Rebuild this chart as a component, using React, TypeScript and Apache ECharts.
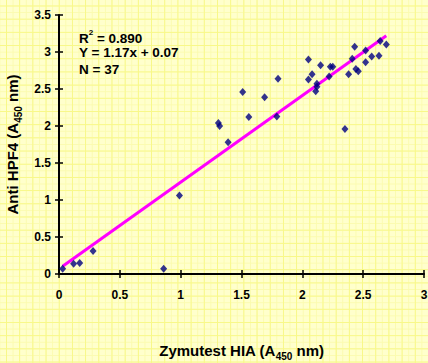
import React, { useEffect, useRef } from "react";
import * as echarts from "echarts";

// Zymutest HIA (x) vs Anti HPF4 (y), A450 nm
const xValues = [
  0.03, 0.12, 0.17, 0.28, 0.86, 0.99, 1.31, 1.32, 1.39, 1.51, 1.56, 1.69,
  1.8, 1.79, 2.05, 2.05, 2.08, 2.15, 2.12, 2.12, 2.11, 2.23, 2.25, 2.22,
  2.35, 2.38, 2.43, 2.41, 2.44, 2.46, 2.52, 2.52, 2.57, 2.63, 2.64, 2.69,
];
const yValues = [
  0.07, 0.14, 0.15, 0.31, 0.07, 1.06, 2.04, 2.0, 1.78, 2.46, 2.12, 2.39,
  2.64, 2.13, 2.9, 2.63, 2.7, 2.82, 2.57, 2.53, 2.47, 2.8, 2.8, 2.67,
  1.96, 2.7, 3.07, 2.91, 2.77, 2.74, 3.02, 2.86, 2.94, 2.95, 3.15, 3.1,
];
// regression line end points
const fitX = [0.03, 2.69];
const fitY = [0.105, 3.22];

const statLines = ["{a|R}{sup|2}{a| = 0.890}", "{a|Y = 1.17x + 0.07}", "{a|N = 37}"];

const FONT = "'Liberation Sans', Arial, sans-serif";

export default function App() {
  const ref = useRef<HTMLDivElement>(null);
  useEffect(() => {
    if (!ref.current) return;
    const chart = echarts.init(ref.current, null, { renderer: "svg" });
    const points = xValues.map((x, i) => [x, yValues[i]]);
    const fit = fitX.map((x, i) => [x, fitY[i]]);
    const axisLine = { show: true, onZero: false, lineStyle: { color: "#000", width: 2 } };
    const tickStyle = { color: "#000", width: 1.5 };
    const labelStyle = { color: "#000", fontWeight: "bold" as const, fontSize: 12, fontFamily: FONT };
    const nameRich = {
      a: { fontSize: 15, fontWeight: "bold" as const, fontFamily: FONT, color: "#000", verticalAlign: "bottom" as const, padding: [0, 0, 3, 0] },
      sub: { fontSize: 10, fontWeight: "bold" as const, fontFamily: FONT, color: "#000", verticalAlign: "bottom" as const },
    };
    chart.setOption({
      animation: false,
      backgroundColor: "transparent",
      grid: { left: 59, right: 4, top: 15, bottom: 89, containLabel: false, outerBoundsMode: "none" },
      xAxis: [
        {
          type: "value", min: 0, max: 3, interval: 0.5,
          axisLine, splitLine: { show: false },
          axisTick: { show: true, length: 4, lineStyle: tickStyle },
          axisLabel: { ...labelStyle, margin: 15 },
          name: "{a|Zymutest HIA (A}{sub|450}{a| nm)}",
          nameLocation: "middle", nameGap: 69,
          nameTextStyle: { rich: nameRich },
        },
        {
          type: "value", min: 0, max: 3, interval: 0.5, position: "bottom",
          axisLine: { show: false }, splitLine: { show: false },
          axisTick: { show: true, inside: true, length: 4, lineStyle: tickStyle },
          axisLabel: { show: false },
        },
      ],
      yAxis: [
        {
          type: "value", min: 0, max: 3.5, interval: 0.5,
          axisLine, splitLine: { show: false },
          axisTick: { show: true, length: 4, lineStyle: tickStyle },
          axisLabel: { ...labelStyle, margin: 8 },
          name: "{a|Anti HPF4 (A}{sub|450}{a| nm)}",
          nameLocation: "middle", nameGap: 34, nameRotate: 90,
          nameTextStyle: { rich: nameRich },
        },
        {
          type: "value", min: 0, max: 3.5, interval: 0.5, position: "left",
          axisLine: { show: false }, splitLine: { show: false },
          axisTick: { show: true, inside: true, length: 4, lineStyle: tickStyle },
          axisLabel: { show: false },
        },
      ],
      series: [
        {
          type: "line", data: fit, symbol: "none", silent: true,
          lineStyle: { color: "#FF00FF", width: 3 }, z: 2,
        },
        {
          type: "scatter", data: points, symbol: "diamond", symbolSize: [7, 8],
          itemStyle: { color: "#000080" }, z: 3,
        },
      ],
      graphic: statLines.map((t, i) => ({
        type: "text",
        left: 79,
        top: 28 + i * 17,
        style: {
          text: t,
          fill: "#000",
          font: `bold 13.5px ${FONT}`,
          rich: {
            a: { fontSize: 13.5, fontWeight: "bold", fontFamily: FONT, fill: "#000", verticalAlign: "bottom", padding: [3, 0, 0, 0] },
            sup: { fontSize: 8, fontWeight: "bold", fontFamily: FONT, fill: "#000", verticalAlign: "top" },
          },
        },
      })),
    });
    return () => chart.dispose();
  }, []);
  const bg: React.CSSProperties = {
    position: "fixed", left: 0, top: 0, width: 428, height: 363,
    backgroundColor: "#FFFFCC",
    backgroundImage:
      "linear-gradient(#F8F888 1px, transparent 1px), linear-gradient(90deg, #F8F888 1px, transparent 1px)," +
      "linear-gradient(#FBFBB0 1px, transparent 1px), linear-gradient(90deg, #FBFBB0 1px, transparent 1px)",
    backgroundSize: "13.2px 13.2px, 13.2px 13.2px, 6.6px 6.6px, 6.6px 6.6px",
    backgroundPosition: "6px 5.5px, 6px 5.5px, 6px 5.5px, 6px 5.5px",
  };
  return (
    <div style={bg}>
      <div ref={ref} style={{ width: 428, height: 363 }} />
    </div>
  );
}
